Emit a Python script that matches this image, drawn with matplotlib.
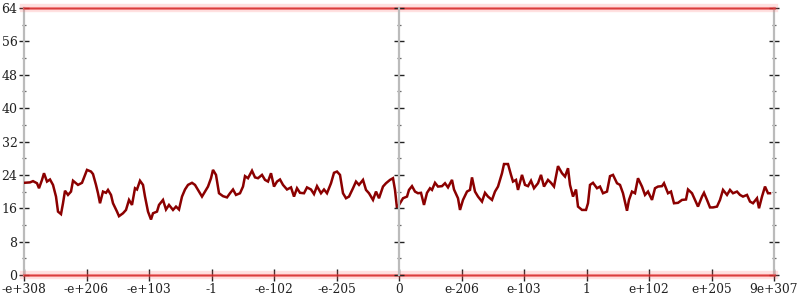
import matplotlib
matplotlib.use("Agg")
import matplotlib.pyplot as plt
from matplotlib.ticker import MultipleLocator, FixedLocator
import numpy as np

# ---- data ----
x_labels = ["-e+308", "-e+206", "-e+103", "-1", "-e-102", "-e-205", "0",
            "e-206", "e-103", "1", "e+102", "e+205", "9e+307"]
band_levels = [0, 64]

series_x = [0, 6, 9, 13, 15, 18, 20, 23, 26, 29, 32, 34, 37, 39, 41, 44, 47, 49, 52, 54,
            58, 61, 63, 67, 69, 72, 74, 76, 79, 82, 84, 87, 89, 93, 95, 99, 102, 105, 108, 111,
            113, 116, 119, 121, 124, 127, 129, 133, 135, 139, 142, 145, 149, 152, 155, 158, 161, 164, 168, 171,
            174, 178, 181, 184, 187, 189, 192, 195, 199, 203, 206, 209, 212, 216, 219, 221, 224, 228, 231, 234,
            238, 241, 244, 247, 250, 253, 256, 259, 263, 267, 270, 273, 276, 280, 283, 287, 290, 293, 297, 300,
            303, 307, 310, 313, 316, 319, 322, 325, 329, 332, 335, 339, 342, 345, 349, 352, 355, 359, 362, 366,
            369, 371, 373, 376, 379, 383, 385, 388, 391, 394, 397, 400, 403, 406, 408, 411, 414, 418, 421, 424,
            428, 430, 434, 436, 439, 443, 446, 448, 451, 454, 458, 461, 464, 468, 471, 474, 476, 478, 480, 484,
            487, 489, 492, 494, 498, 501, 504, 507, 510, 514, 517, 520, 524, 527, 530, 534, 538, 541, 544, 546,
            549, 552, 554, 558, 562, 564, 566, 569, 573, 576, 579, 583, 586, 589, 593, 596, 599, 603, 605, 608,
            611, 614, 618, 621, 624, 628, 631, 634, 638, 640, 644, 647, 650, 654, 658, 662, 664, 668, 671, 674,
            678, 680, 683, 686, 689, 693, 696, 699, 703, 706, 709, 713, 716, 719, 723, 726, 729, 733, 735, 738,
            741, 744, 746]
series_y = [22.1, 22.2, 22.5, 22.0, 20.8, 22.8, 24.4, 22.4, 22.9, 21.6, 18.8, 15.2, 14.6, 17.2, 20.2, 19.2, 20.0, 22.6, 22.0, 21.6,
            22.1, 24.0, 25.2, 24.8, 24.2, 21.6, 19.6, 17.2, 20.0, 19.7, 20.4, 19.2, 17.2, 15.2, 14.1, 14.8, 15.6, 18.0, 16.8, 20.8,
            20.5, 22.6, 21.6, 18.8, 15.2, 13.3, 14.8, 15.2, 16.8, 18.0, 15.7, 16.8, 15.6, 16.4, 15.7, 18.8, 20.5, 21.6, 22.1, 21.6,
            20.4, 18.8, 20.0, 21.2, 23.2, 25.2, 24.0, 19.6, 18.9, 18.6, 19.6, 20.5, 19.2, 19.6, 21.2, 23.7, 23.2, 25.0, 23.4, 23.2,
            24.0, 22.8, 22.4, 24.4, 21.2, 22.4, 22.9, 21.6, 20.5, 21.0, 18.8, 20.8, 19.7, 19.6, 21.0, 20.5, 19.4, 21.3, 19.6, 20.5,
            19.6, 22.0, 24.5, 24.8, 24.0, 19.6, 18.4, 18.8, 20.8, 22.4, 21.6, 22.8, 20.4, 19.6, 18.0, 20.0, 18.4, 21.2, 22.0, 22.8,
            23.2, 20.4, 16.0, 17.2, 18.4, 18.8, 20.4, 21.3, 20.0, 19.6, 19.7, 16.8, 19.7, 20.8, 20.4, 22.1, 21.2, 21.3, 22.0, 21.0,
            22.8, 20.5, 18.4, 15.6, 18.0, 20.0, 20.4, 23.4, 20.0, 18.8, 17.6, 19.7, 18.8, 18.0, 20.0, 21.2, 22.8, 24.4, 26.6, 26.6,
            24.0, 22.4, 22.8, 20.4, 24.0, 21.6, 21.3, 22.6, 20.8, 22.0, 24.0, 21.2, 22.8, 22.1, 21.2, 26.1, 24.4, 23.6, 25.6, 21.6,
            18.8, 20.5, 16.4, 15.6, 15.6, 17.2, 21.6, 22.1, 20.8, 21.2, 19.6, 20.0, 23.7, 24.0, 22.0, 21.6, 19.6, 15.4, 18.0, 20.0,
            19.6, 23.2, 21.2, 19.2, 20.0, 18.0, 20.8, 21.2, 21.3, 22.0, 19.6, 20.0, 17.2, 17.3, 18.0, 18.1, 20.5, 19.6, 18.0, 16.4,
            18.8, 19.7, 18.0, 16.2, 16.2, 16.4, 18.0, 20.4, 19.2, 20.4, 19.6, 20.0, 19.2, 18.8, 19.2, 17.6, 17.2, 18.4, 16.0, 18.8,
            21.2, 19.6, 19.6]

# ---- figure ----
plt.rcParams['font.family'] = ['DejaVu Serif']
fig = plt.figure(figsize=(8, 3), dpi=100)
ax = fig.add_axes([0.03, 0.0833, 0.9375, 0.89])

x_min, x_max = 0, 750
ax.set_xlim(x_min, x_max)
ax.set_ylim(0, 64)

axis_gray = '#bbbbbb'
for side in ['left', 'right']:
    ax.spines[side].set_color(axis_gray)
    ax.spines[side].set_linewidth(1.6)
ax.spines['top'].set_visible(False)
ax.spines['bottom'].set_visible(False)

# center axis via twin
ax2 = ax.twinx()
ax2.set_ylim(0, 64)
for side in ['left', 'top', 'bottom']:
    ax2.spines[side].set_visible(False)
ax2.spines['right'].set_position(('axes', 0.5))
ax2.spines['right'].set_color(axis_gray)
ax2.spines['right'].set_linewidth(1.6)

for a in (ax, ax2):
    a.yaxis.set_major_locator(MultipleLocator(8))
    a.yaxis.set_minor_locator(MultipleLocator(4))
ax.tick_params(axis='y', which='major', direction='inout', length=7.5, width=1.0,
               color='#222222', left=True, right=True, labelleft=True, labelright=False,
               labelsize=9, pad=1.0, labelcolor='#222222')
ax.tick_params(axis='y', which='minor', direction='inout', length=3.5, width=0.9,
               color='#666666', left=True, right=True)
ax2.tick_params(axis='y', which='major', direction='inout', length=7.5, width=1.0,
                color='#222222', right=True, labelright=False)
ax2.tick_params(axis='y', which='minor', direction='inout', length=3.5, width=0.9,
                color='#666666', right=True)

tick_pos = np.linspace(x_min, x_max, len(x_labels))
ax.xaxis.set_major_locator(FixedLocator(tick_pos))
ax.set_xticklabels(x_labels)
ax.tick_params(axis='x', which='major', direction='inout', length=8, width=1.0,
               color='#222222', labelsize=8.8, pad=2, labelcolor='#222222')

# red bands at the limits
for lvl in band_levels:
    ax.axhline(lvl, color='#ff6666', lw=6, alpha=0.2, clip_on=False, zorder=3)
    ax.axhline(lvl, color='#e83a3a', lw=2.2, alpha=0.55, clip_on=False, zorder=3)
    ax.axhline(lvl, color='#cc2020', lw=0.8, alpha=0.7, clip_on=False, zorder=3)

ax.plot(series_x, series_y, color='#8b0000', lw=1.8, zorder=4, solid_joinstyle='miter')

fig.savefig('out.png', dpi=100)
